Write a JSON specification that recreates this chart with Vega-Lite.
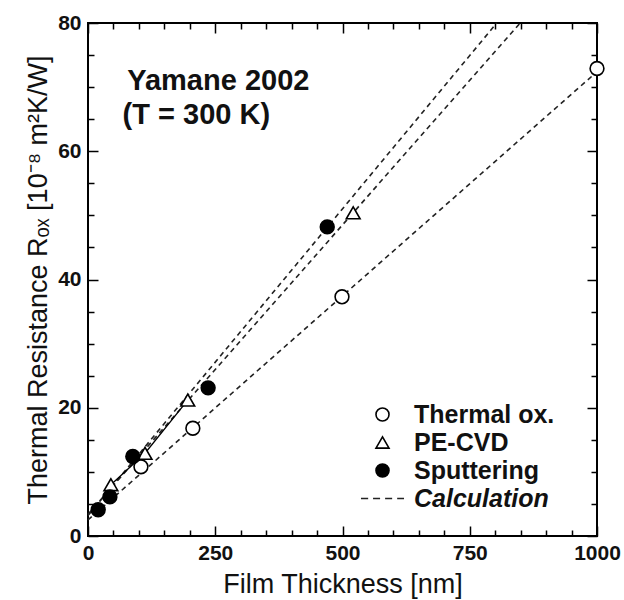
{
  "$schema": "https://vega.github.io/schema/vega-lite/v6.json",
  "width": 509,
  "height": 513,
  "autosize": {"type": "none"},
  "padding": {"left": 88, "top": 23, "right": 27, "bottom": 64},
  "background": "white",
  "config": {
    "view": {"stroke": "black", "strokeWidth": 2},
    "font": "Liberation Sans",
    "axis": {
      "domain": false, "tickColor": "black", "tickWidth": 1.5,
      "labelFont": "Liberation Sans", "labelFontWeight": "bold", "labelFontSize": 21, "labelColor": "#111",
      "titleFont": "Liberation Sans", "titleFontWeight": "normal", "titleFontSize": 27, "titleColor": "#111",
      "grid": false
    },
    "legend": {
      "title": null, "orient": "none", "legendX": 282, "legendY": 379,
      "symbolSize": 170, "symbolStrokeWidth": 1.6,
      "labelFont": "Liberation Sans", "labelFontSize": 25, "labelFontWeight": "bold", "labelColor": "#111",
      "labelFontStyle": {"expr": "datum.label === 'Calculation' ? 'italic' : 'normal'"},
      "rowPadding": 2, "labelOffset": 19
    }
  },
  "datasets": {
    "points": [
      {"series": "Thermal ox.", "thickness": 104, "R": 10.8},
      {"series": "Thermal ox.", "thickness": 206, "R": 16.8},
      {"series": "Thermal ox.", "thickness": 499, "R": 37.3},
      {"series": "Thermal ox.", "thickness": 1000, "R": 72.9},
      {"series": "PE-CVD", "thickness": 45, "R": 8.0},
      {"series": "PE-CVD", "thickness": 112, "R": 12.9},
      {"series": "PE-CVD", "thickness": 196, "R": 21.2},
      {"series": "PE-CVD", "thickness": 521, "R": 50.4},
      {"series": "Sputtering", "thickness": 20, "R": 4.1},
      {"series": "Sputtering", "thickness": 43, "R": 6.1},
      {"series": "Sputtering", "thickness": 88, "R": 12.4},
      {"series": "Sputtering", "thickness": 236, "R": 23.1},
      {"series": "Sputtering", "thickness": 470, "R": 48.2}
    ],
    "calc": [
      {"line": "Thermal ox.", "thickness": 0, "R": 2.5},
      {"line": "Thermal ox.", "thickness": 1000, "R": 72.4},
      {"line": "PE-CVD", "thickness": 0, "R": 3.4},
      {"line": "PE-CVD", "thickness": 849, "R": 80},
      {"line": "Sputtering", "thickness": 0, "R": 3.2},
      {"line": "Sputtering", "thickness": 803, "R": 80}
    ],
    "solid": [
      {"thickness": 45, "R": 8.0},
      {"thickness": 112, "R": 12.9},
      {"thickness": 196, "R": 21.2}
    ],
    "notes": [
      {"text": "Yamane 2002", "thickness": 77, "R": 71.0},
      {"text": "(T = 300 K)", "thickness": 68, "R": 65.7}
    ]
  },
  "layer": [
    {
      "data": {"name": "calc"},
      "mark": {"type": "line", "strokeDash": [5, 4], "strokeWidth": 1.6, "color": "#222"},
      "encoding": {
        "x": {
          "field": "thickness", "type": "quantitative",
          "scale": {"domain": [0, 1000], "nice": false},
          "axis": {
            "orient": "bottom", "title": "Film Thickness [nm]", "format": "d",
            "values": [0, 250, 500, 750, 1000],
            "offset": -10, "tickSize": 10, "labelPadding": 6, "titlePadding": 8, "labelFlush": false
          }
        },
        "y": {
          "field": "R", "type": "quantitative",
          "scale": {"domain": [0, 80], "nice": false},
          "axis": {
            "orient": "left", "title": "Thermal Resistance Rₒₓ [10⁻⁸ m²K/W]",
            "values": [0, 20, 40, 60, 80],
            "offset": -10, "tickSize": 10, "labelPadding": 7, "titlePadding": 5, "labelFlush": false
          }
        },
        "detail": {"field": "line"}
      }
    },
    {
      "data": {"name": "solid"},
      "mark": {"type": "line", "strokeWidth": 1.3, "color": "black"},
      "encoding": {
        "x": {"field": "thickness", "type": "quantitative",
          "axis": {"orient": "top", "title": null, "labels": false, "values": [0, 250, 500, 750, 1000], "offset": -10, "tickSize": 10}},
        "y": {"field": "R", "type": "quantitative",
          "axis": {"orient": "right", "title": null, "labels": false, "values": [0, 20, 40, 60, 80], "offset": -10, "tickSize": 10}}
      }
    },
    {
      "data": {"name": "points"},
      "mark": {"type": "point", "filled": false, "size": 190, "strokeWidth": 1.6, "opacity": 1},
      "encoding": {
        "x": {"field": "thickness", "type": "quantitative",
          "axis": {"orient": "bottom", "title": null, "labels": false, "offset": -6, "tickSize": 6,
            "values": [50,100,150,200,300,350,400,450,550,600,650,700,800,850,900,950]}},
        "y": {"field": "R", "type": "quantitative",
          "axis": {"orient": "left", "title": null, "labels": false, "offset": -6, "tickSize": 6,
            "values": [5,10,15,25,30,35,45,50,55,65,70,75]}},
        "shape": {
          "field": "series", "type": "nominal",
          "scale": {
            "domain": ["Thermal ox.", "PE-CVD", "Sputtering", "Calculation"],
            "range": ["circle", "triangle-up", "circle", "M-3.3,0H-2.2M-1.45,0H-0.37M0.4,0H1.48M2.25,0H3.3"]
          },
          "legend": {}
        },
        "fill": {
          "field": "series", "type": "nominal",
          "scale": {"domain": ["Thermal ox.", "PE-CVD", "Sputtering", "Calculation"], "range": ["white", "white", "black", "transparent"]},
          "legend": {}
        },
        "stroke": {
          "field": "series", "type": "nominal",
          "scale": {"domain": ["Thermal ox.", "PE-CVD", "Sputtering", "Calculation"], "range": ["black", "black", "black", "#222"]},
          "legend": {}
        }
      }
    },
    {
      "data": {"name": "notes"},
      "mark": {"type": "text", "align": "left", "baseline": "middle", "fontSize": 29, "fontWeight": "bold", "font": "Liberation Sans", "color": "#111"},
      "encoding": {
        "x": {"field": "thickness", "type": "quantitative",
          "axis": {"orient": "top", "title": null, "labels": false, "offset": -6, "tickSize": 6,
            "values": [50,100,150,200,300,350,400,450,550,600,650,700,800,850,900,950]}},
        "y": {"field": "R", "type": "quantitative",
          "axis": {"orient": "right", "title": null, "labels": false, "offset": -6, "tickSize": 6,
            "values": [5,10,15,25,30,35,45,50,55,65,70,75]}},
        "text": {"field": "text"}
      }
    }
  ],
  "resolve": {"axis": {"x": "independent", "y": "independent"}}
}
